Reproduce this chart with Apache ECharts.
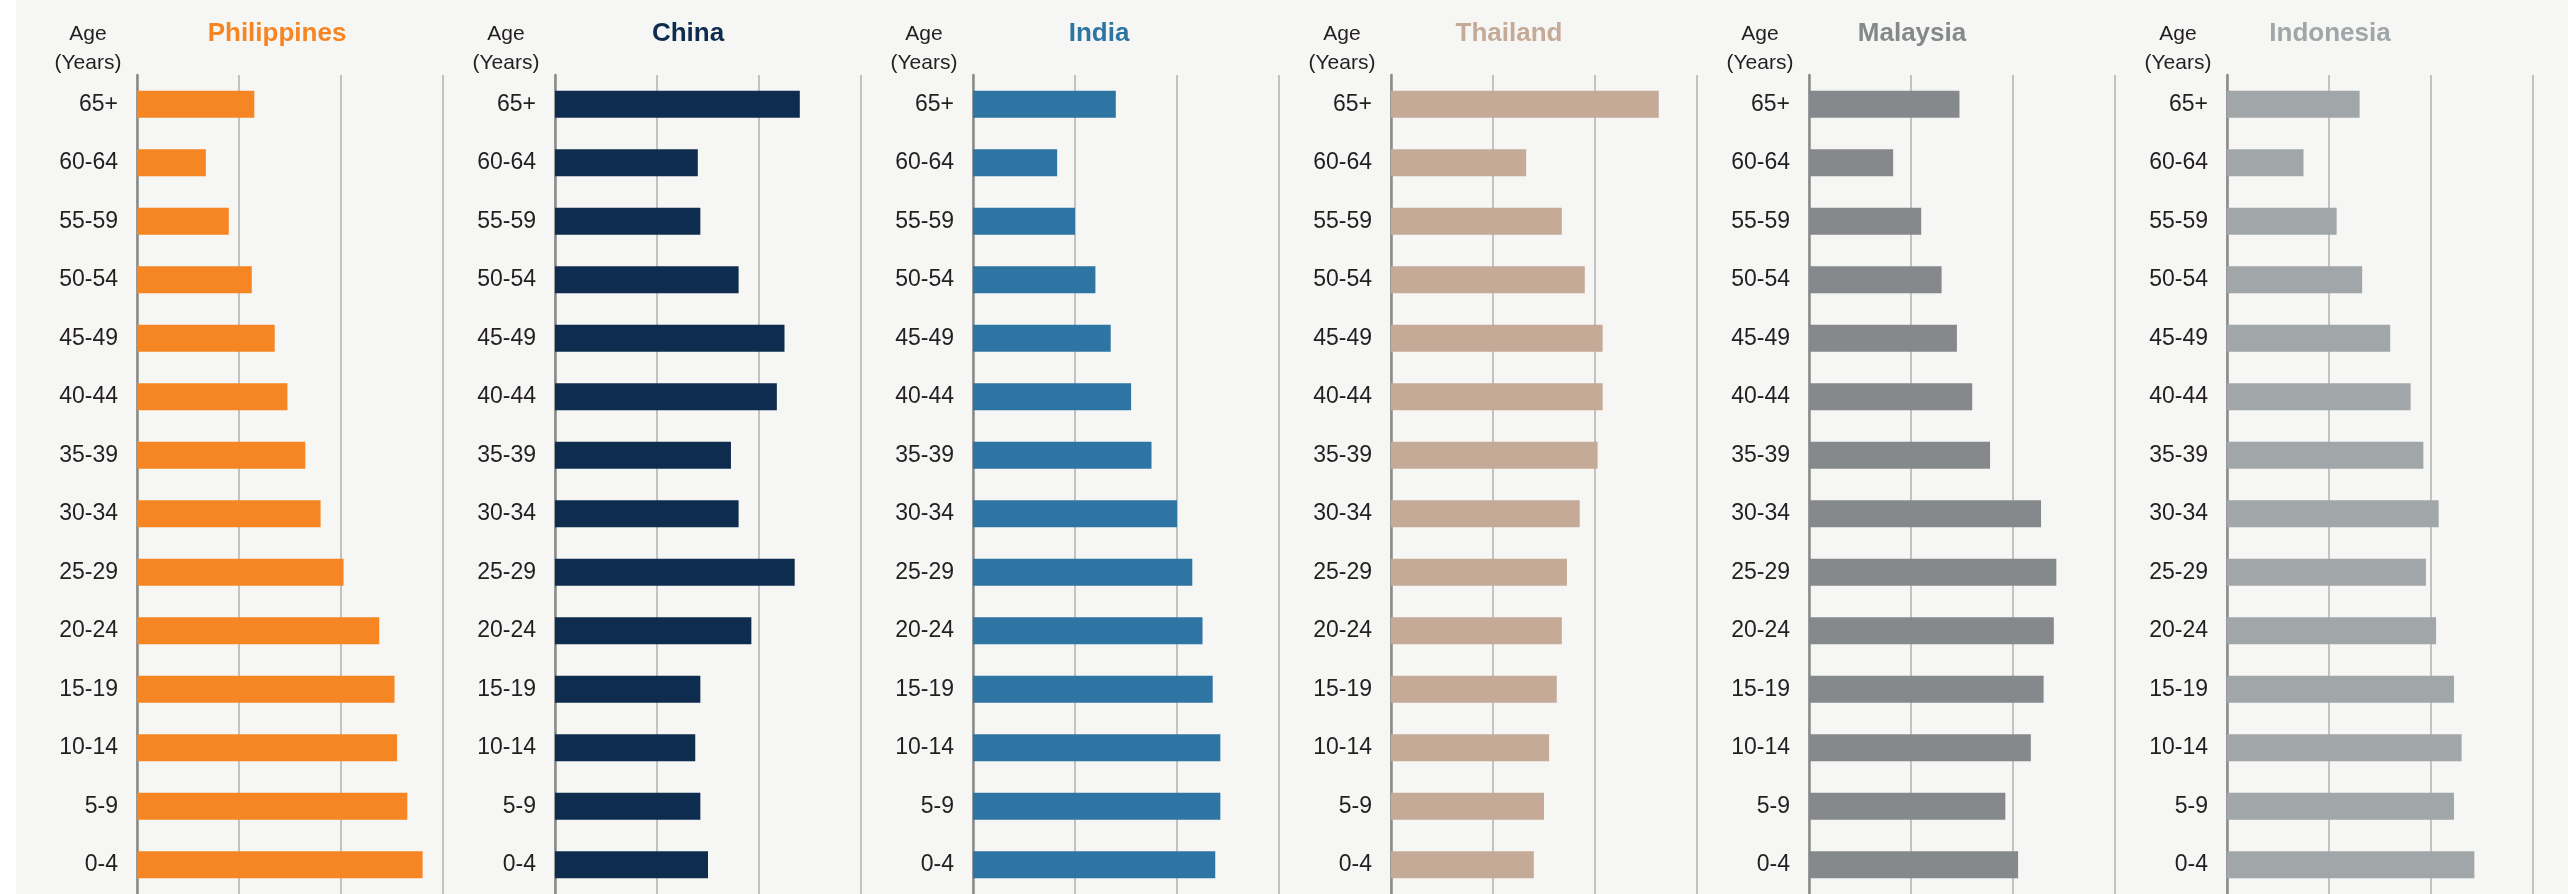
<!DOCTYPE html>
<html>
<head>
<meta charset="utf-8">
<style>
  html, body { margin: 0; padding: 0; background: #f6f6f4; }
  #chart { width: 2568px; height: 894px; }
</style>
<script src="https://cdn.jsdelivr.net/npm/echarts@6/dist/echarts.min.js"></script>
</head>
<body>
<div id="chart"></div>
<script>
// Age groups, oldest at the top
const ageGroups = ['65+', '60-64', '55-59', '50-54', '45-49', '40-44', '35-39',
                   '30-34', '25-29', '20-24', '15-19', '10-14', '5-9', '0-4'];

const countries = ['Philippines', 'China', 'India', 'Thailand', 'Malaysia', 'Indonesia'];

// Share of population (%) in each age group, same order as ageGroups
const philippines = [4.6, 2.7, 3.6, 4.5, 5.4, 5.9, 6.6, 7.2, 8.1, 9.5, 10.1, 10.2, 10.6, 11.2];
const china       = [9.6, 5.6, 5.7, 7.2, 9.0, 8.7, 6.9, 7.2, 9.4, 7.7, 5.7, 5.5, 5.7, 6.0];
const india       = [5.6, 3.3, 4.0, 4.8, 5.4, 6.2, 7.0, 8.0, 8.6, 9.0, 9.4, 9.7, 9.7, 9.5];
const thailand    = [10.5, 5.3, 6.7, 7.6, 8.3, 8.3, 8.1, 7.4, 6.9, 6.7, 6.5, 6.2, 6.0, 5.6];
const malaysia    = [5.9, 3.3, 4.4, 5.2, 5.8, 6.4, 7.1, 9.1, 9.7, 9.6, 9.2, 8.7, 7.7, 8.2];
const indonesia   = [5.2, 3.0, 4.3, 5.3, 6.4, 7.2, 7.7, 8.3, 7.8, 8.2, 8.9, 9.2, 8.9, 9.7];

const seriesValues = [philippines, china, india, thailand, malaysia, indonesia];
const colors = ['#f58623', '#0e2d4e', '#2e75a3', '#c4aa97', '#86898b', '#a1a6a8'];

// Value axis range (percent)
const axisMin = 0, axisMax = 12, axisStep = 4;

// Panel layout
const panelLeft = 137, panelGap = 418, panelWidth = 306;
const gridTop = 75, gridBottom = 0;
const titleOffsets = [140, 133, 126, 118, 103, 103];
const font = "'Liberation Sans', Arial, Helvetica, sans-serif";
const textColor = '#231f20';

const grids = [], xAxes = [], yAxes = [], series = [], graphics = [];

graphics.push({ type: 'rect', shape: { x: 0, y: 0, width: 16, height: 894 },
                style: { fill: '#ffffff' }, silent: true, z: -1 });

countries.forEach((name, i) => {
  const left = panelLeft + i * panelGap;
  grids.push({ left: left, width: panelWidth, top: gridTop, bottom: gridBottom, containLabel: false });
  xAxes.push({
    type: 'value', gridIndex: i, min: axisMin, max: axisMax, interval: axisStep,
    axisLine: { show: false }, axisTick: { show: false }, axisLabel: { show: false },
    splitLine: { show: true, lineStyle: { color: '#c2c2c2', width: 2 } }
  });
  yAxes.push({
    type: 'category', gridIndex: i, data: ageGroups, inverse: true,
    axisLine: { show: true, lineStyle: { color: '#8a8a8a', width: 2.5 } },
    axisTick: { show: false },
    axisLabel: { margin: 19, fontFamily: font, fontSize: 23, color: textColor }
  });
  series.push({
    type: 'bar', name: name, xAxisIndex: i, yAxisIndex: i,
    data: seriesValues[i], barWidth: 27,
    itemStyle: { color: colors[i] }, z: 3
  });
  graphics.push({
    type: 'text', x: left + titleOffsets[i], y: 34,
    style: { text: name, font: 'bold 26px ' + font, fill: colors[i],
             align: 'center', verticalAlign: 'middle' }
  });
  graphics.push({
    type: 'text', x: left - 49, y: 49,
    style: { text: 'Age\n(Years)', font: '21px ' + font, fill: textColor,
             align: 'center', verticalAlign: 'middle', lineHeight: 29 }
  });
});

const chart = echarts.init(document.getElementById('chart'), null, { renderer: 'canvas' });
chart.setOption({
  backgroundColor: '#f6f6f4',
  animation: false,
  grid: grids,
  xAxis: xAxes,
  yAxis: yAxes,
  series: series,
  graphic: graphics
});
</script>
</body>
</html>
